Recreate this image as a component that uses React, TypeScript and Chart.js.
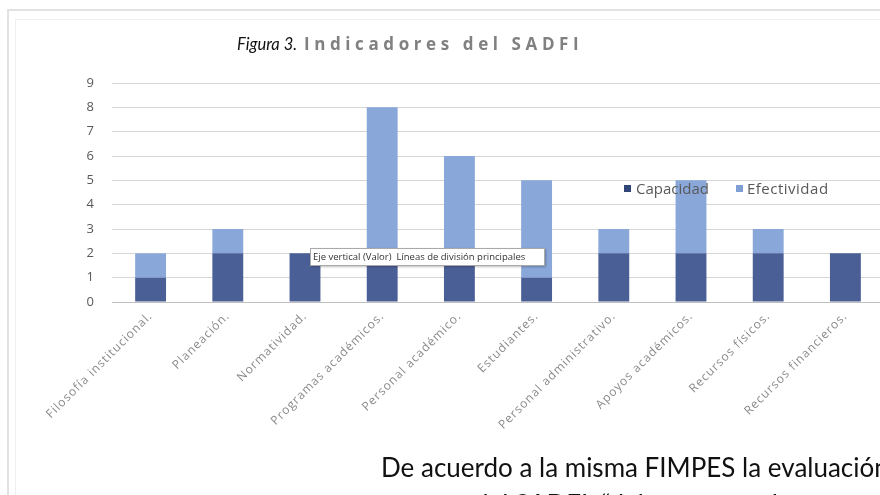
import React, { useEffect, useRef } from "react";
import { Chart, registerables } from "chart.js";

Chart.register(...registerables);

const categories = [
  "Filosofía institucional.",
  "Planeación.",
  "Normatividad.",
  "Programas académicos.",
  "Personal académico.",
  "Estudiantes.",
  "Personal administrativo.",
  "Apoyos académicos.",
  "Recursos físicos.",
  "Recursos financieros.",
];
const capacidad = [1, 2, 2, 2, 2, 1, 2, 2, 2, 2];
const efectividad = [1, 1, 0, 6, 4, 4, 1, 3, 1, 0];
const yTicks = [0, 1, 2, 3, 4, 5, 6, 7, 8, 9];
const seriesNames = ["Capacidad", "Efectividad"];

const DARK = "#4b5f97";
const LIGHT = "#89a7d9";

const spacingPlugin = {
  id: "labelSpacing",
  beforeDraw(chart: any) {
    try {
      chart.ctx.letterSpacing = "1px";
    } catch (e) {}
  },
  afterDraw(chart: any) {
    try {
      chart.ctx.letterSpacing = "0px";
    } catch (e) {}
  },
};

export default function App() {
  const ref = useRef<HTMLCanvasElement | null>(null);

  useEffect(() => {
    document.body.style.margin = "0";
    const canvas = ref.current;
    if (!canvas) return;
    const chart = new Chart(canvas, {
      type: "bar",
      data: {
        labels: categories,
        datasets: [
          { label: seriesNames[0], data: capacidad, backgroundColor: DARK, borderWidth: 0 },
          { label: seriesNames[1], data: efectividad, backgroundColor: LIGHT, borderWidth: 0 },
        ],
      },
      plugins: [spacingPlugin],
      options: {
        animation: false,
        responsive: false,
        layout: { padding: { top: 83, left: 60, right: 16, bottom: 0 } },
        datasets: { bar: { barPercentage: 0.4, categoryPercentage: 1 } },
        plugins: { legend: { display: false }, tooltip: { enabled: false }, title: { display: false } },
        scales: {
          x: {
            stacked: true,
            grid: { display: false, drawTicks: false },
            border: { display: true, color: "#bfbfbf", width: 1 },
            ticks: {
              autoSkip: false,
              minRotation: 45,
              maxRotation: 45,
              padding: 7,
              color: "#8a8a8a",
              font: { family: "'Open Sans'", size: 12 },
            },
            afterFit: (s: any) => {
              s.height = 193;
            },
          },
          y: {
            stacked: true,
            min: yTicks[0],
            max: yTicks[yTicks.length - 1],
            afterBuildTicks: (s: any) => {
              s.ticks = yTicks.map((v) => ({ value: v }));
            },
            grid: {
              drawTicks: false,
              color: (ctx: any) => (ctx.tick && ctx.tick.value === 0 ? "#bfbfbf" : "#d6d6d6"),
              lineWidth: 1,
            },
            border: { display: false },
            ticks: {
              padding: 17,
              color: "#595959",
              font: { family: "'Open Sans'", size: 13 },
            },
            afterFit: (s: any) => {
              s.width = 52;
            },
          },
        },
      },
    });
    return () => chart.destroy();
  }, []);

  const abs: React.CSSProperties = { position: "absolute", whiteSpace: "nowrap" };

  return (
    <div style={{ position: "relative", width: 880, height: 495, overflow: "hidden", background: "#fff" }}>
      <div style={{ ...abs, left: 7, top: 9, width: 900, height: 500, borderTop: "2px solid #e2e2e2", borderLeft: "2px solid #e2e2e2" }} />
      <div style={{ ...abs, left: 15, top: 19, width: 900, height: 500, borderTop: "1px solid #efefef", borderLeft: "1px solid #efefef" }} />
      <canvas ref={ref} width={900} height={495} style={{ position: "absolute", left: 0, top: 0, width: 900, height: 495 }} />
      <div style={{ ...abs, left: 624, top: 177, fontFamily: "'Open Sans'", fontSize: 15, color: "#595959", lineHeight: "22px", display: "flex", alignItems: "center" }}>
        <span style={{ display: "inline-block", width: 7, height: 7, background: "#2f4677", marginRight: 5 }} />
        <span>{seriesNames[0]}</span>
        <span style={{ display: "inline-block", width: 7, height: 7, background: "#7f9fd4", marginLeft: 27, marginRight: 4 }} />
        <span style={{ letterSpacing: 0.5 }}>{seriesNames[1]}</span>
      </div>
      <div style={{ ...abs, left: 237, top: 33, lineHeight: "22px" }}>
        <span style={{ fontFamily: "Lato", fontStyle: "italic", fontSize: 16.5, color: "#111" }}>Figura 3. </span>
        <span style={{ fontFamily: "'Open Sans'", fontWeight: 700, fontSize: 17, letterSpacing: 4.6, color: "#808080", marginLeft: 3 }}>Indicadores del SADFI</span>
      </div>
      <div style={{ ...abs, left: 310, top: 248, width: 235, height: 18, background: "#fff", border: "1px solid #a9a9a9", boxShadow: "1px 1px 2px rgba(0,0,0,0.25)", fontFamily: "'Open Sans'", fontSize: 9.5, color: "#333", lineHeight: "16px", paddingLeft: 2, boxSizing: "border-box" as any }}>
        Eje vertical (Valor)&nbsp; Líneas de división principales
      </div>
      <div style={{ ...abs, left: 381, top: 449, fontFamily: "Lato", fontSize: 26, lineHeight: "37px", color: "#111" }}>
        <div>De acuerdo a la misma FIMPES la evaluación</div>
        <div>externa del SADFI, “debe constar de</div>
      </div>
    </div>
  );
}
